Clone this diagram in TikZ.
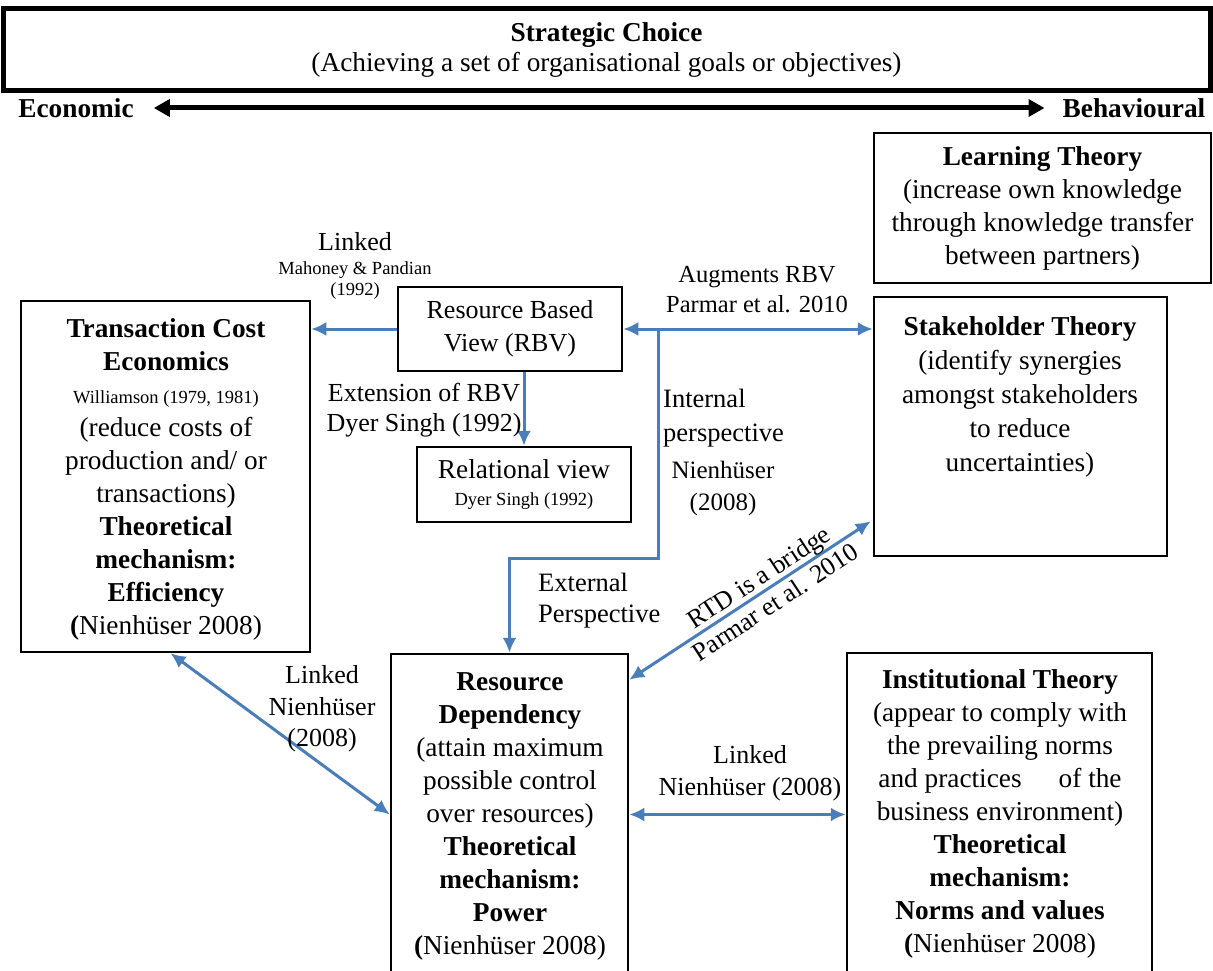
\documentclass[tikz,border=0pt]{standalone}
\usepackage{fontspec}
\setmainfont{Liberation Serif}
\usetikzlibrary{arrows.meta,calc}
\definecolor{linkblue}{RGB}{74,126,187}
% type sizes (1pt = one unit of the drawing grid)
\newcommand{\boxsize}{\fontsize{27.3}{33}\selectfont}
\newcommand{\lblsize}{\fontsize{26}{32}\selectfont}
\newcommand{\refsize}{\fontsize{18.5}{22}\selectfont}
\begin{document}
\begin{tikzpicture}[x=1pt,y=-1pt,
  frame/.style={draw=black, line width=2.5pt, inner sep=0pt, align=center, font=\boxsize},
  body/.style={inner sep=0pt, align=center, anchor=north, font=\boxsize},
  lbl/.style={inner sep=0pt, align=center, font=\lblsize},
  conn/.style={draw=linkblue, line width=3pt},
  tip/.style={-{Latex[length=15pt,width=14pt]}},
  tips/.style={{Latex[length=15pt,width=14pt]}-{Latex[length=15pt,width=14pt]}},
]
\useasboundingbox (0,0) rectangle (1213,971);
\clip (0,0) rectangle (1213,971);

% heading band
\node[frame, line width=5pt, minimum width=1207pt, minimum height=82pt,
      font=\fontsize{27.3}{30}\selectfont] (sc) at (606.5,50)
  {\textbf{Strategic Choice}\\(Achieving a set of organisational goals or objectives)};
\node[lbl, font=\bfseries\fontsize{27.3}{30}\selectfont] (econ) at (76,108) {Economic};
\node[lbl, font=\bfseries\fontsize{27.3}{30}\selectfont] (behav) at (1134,108) {Behavioural};
\draw[line width=5pt, {Triangle[length=16pt,width=17pt]}-{Triangle[length=16pt,width=17pt]}]
  ([xshift=20pt]econ.east) -- ([xshift=-18pt]behav.west);

% theory boxes
\node[frame, minimum width=337pt, minimum height=150pt] (learn) at (1042.5,208)
  {\textbf{Learning Theory}\\(increase own knowledge\\through knowledge transfer\\between partners)};

\node[frame, minimum width=293pt, minimum height=259pt] (sh) at (1020.5,426.5) {};
\node[body, font=\fontsize{27.3}{34}\selectfont] (shtext) at (1020,316.5)
  {\textbf{Stakeholder Theory}\\(identify synergies\\amongst stakeholders\\to reduce\\uncertainties)};

\node[frame, minimum width=289pt, minimum height=351pt] (tce) at (165.5,476.5) {};
\node[body] (tcetext) at (166,318.5)
  {\textbf{Transaction Cost}\\\textbf{Economics}\\{\refsize Williamson (1979, 1981)}\\(reduce costs of\\production and/ or\\transactions)\\\textbf{Theoretical}\\\textbf{mechanism:}\\\textbf{Efficiency}\\\textbf{(}Nienhüser 2008)};

\node[frame, font=\fontsize{26}{33}\selectfont, minimum width=224pt, minimum height=84pt] (rbv) at (510,329)
  {Resource Based\\View (RBV)};
\node[frame, minimum width=214pt, minimum height=75pt] (rel) at (524,484.5)
  {Relational view\\[-6pt]{\refsize Dyer Singh (1992)}};

\node[frame, minimum width=237pt, minimum height=321pt] (rd) at (509.5,814.5) {};
\node[body] (rdtext) at (510,672.5)
  {\textbf{Resource}\\\textbf{Dependency}\\(attain maximum\\possible control\\over resources)\\\textbf{Theoretical}\\\textbf{mechanism:}\\\textbf{Power}\\\textbf{(}Nienhüser 2008)};

\node[frame, minimum width=305pt, minimum height=322pt] (inst) at (999.5,814) {};
\node[body] (insttext) at (1000,669.5)
  {\textbf{Institutional Theory}\\(appear to comply with\\the prevailing norms\\and practices\hspace{37pt}of the\\business environment)\\\textbf{Theoretical}\\\textbf{mechanism:}\\\textbf{Norms and values}\\\textbf{(}Nienhüser 2008)};

% links between the theories
\draw[conn,tip] (rbv.west) -- (rbv.west -| tce.east);
\draw[conn,tip] (rbv.south -| rel.north) -- (rel.north);
\draw[conn,tips] (rbv.east) -- (rbv.east -| sh.west);
\coordinate (split) at ($(rbv.east)+(35,0)$);
\coordinate (turn) at ($(split)+(0,229)$);
\draw[conn,tip] (split) -- (turn) -| (rd.north);
\draw[conn,tips] ($(tce.south)+(5,0)$) -- (rd.west);
\draw[conn,tips] (rd.east) -- (rd.east -| inst.west);
\draw[conn,tips] ($(rd.north east)+(0,27)$) --
  node[lbl, sloped, pos=0.57, font=\fontsize{26}{30}\selectfont] (lblrtd) {RTD is a bridge\\Parmar et al. 2010}
  ($(sh.south west)+(-2,-36)$);

% link labels
\node[lbl, anchor=north] (lblmp) at (355,232.5)
  {Linked\\[-8pt]{\refsize Mahoney \& Pandian}\\[-11pt]{\refsize (1992)}};
\node[lbl, anchor=north, font=\fontsize{26}{30}\selectfont] (lblext) at (424,382.5)
  {Extension of RBV\\Dyer Singh (1992)};
\node[lbl, anchor=north, font=\fontsize{24.5}{30}\selectfont] (lblaug) at (757,266)
  {Augments RBV\\Parmar et al. 2010};
\node[lbl, anchor=north west, align=left, font=\fontsize{26.5}{34}\selectfont] (lblint) at (663,388.5)
  {Internal\\perspective};
\node[lbl, anchor=north, font=\fontsize{25}{32}\selectfont] (lblintref) at (723,460.5)
  {Nienhüser\\(2008)};
\node[lbl, anchor=north west, align=left, font=\fontsize{26.5}{31}\selectfont] (lblextp) at (538,572.5)
  {External\\Perspective};
\node[lbl, anchor=north, font=\fontsize{26}{31.5}\selectfont] (lbltce) at (322,665.5)
  {Linked\\Nienhüser\\(2008)};
\node[lbl, anchor=north] (lblinst) at (750,745.5)
  {Linked\\Nienhüser (2008)};
\end{tikzpicture}
\end{document}
